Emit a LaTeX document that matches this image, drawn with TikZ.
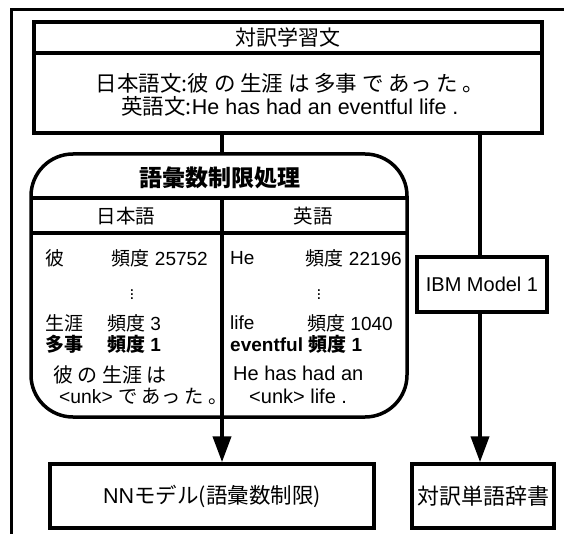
\documentclass[tikz,border=0pt]{standalone}
\usepackage{fontspec}
\setmainfont{Liberation Sans}
\newfontfamily\jp{Noto Sans CJK JP}
\usetikzlibrary{arrows.meta}
\tikzset{
  frame/.style={line width=3pt},
  boxline/.style={line width=3.5pt},
  box/.style={draw, line width=3.5pt, inner sep=0pt, rectangle},
  rowtxt/.style={inner sep=0pt, font=\fontsize{19}{22}\selectfont},
  dotstxt/.style={inner sep=0pt, font=\fontsize{17}{17}\selectfont},
  bigtxt/.style={inner sep=0pt, font=\fontsize{20.5}{24}\selectfont},
  conn/.style={line width=4pt},
  arr/.style={line width=4pt, -{Triangle[length=26pt,width=18pt]}},
}
\begin{document}
\begin{tikzpicture}[x=1pt,y=-1pt]
\useasboundingbox (0,0) rectangle (564,534);
\fill[white] (0,0) rectangle (564,534);
\draw[frame] (11,534) -- (11,10) -- (564,10);

% top box
\node[box, minimum width=508pt, minimum height=111pt] (top) at (288,77.5) {};
\draw[boxline] (34,53) -- (542,53);
\node[inner sep=0pt, font=\jp\fontsize{21}{24}\selectfont] (toptitle) at (288,38) {対訳学習文};
\node[inner sep=0pt, font=\fontsize{21.5}{24}\selectfont] (jline) at (290,83) {\jp 日本語文:彼 の 生涯 は 多事 で あっ た 。};
\node[inner sep=0pt, font=\fontsize{21.5}{24}\selectfont] (eline) at (290,106) {{\jp 英語文:}He has had an eventful life .};

% vocabulary restriction box
\node[box, rounded corners=42pt, minimum width=376pt, minimum height=263pt] (vocab) at (219,285.5) {};
\draw[boxline] (31,198) -- (407,198);
\draw[boxline] (31,233) -- (407,233);
\draw[boxline] (222,198) -- (222,417);
\node[inner sep=0pt, font=\jp\bfseries\fontsize{23}{26}\selectfont] (vtitle) at (220,178) {語彙数制限処理};
\node[inner sep=0pt, font=\jp\fontsize{19.5}{22}\selectfont] (hja) at (126,216) {日本語};
\node[inner sep=0pt, font=\jp\fontsize{19.5}{22}\selectfont] (hen) at (313,216) {英語};

% Japanese column
\node[rowtxt, anchor=west] (j1a) at (45,258) {\jp 彼};
\node[rowtxt, anchor=east] (j1b) at (208,258) {{\jp 頻度} 25752};
\node[dotstxt] (j2) at (132,292) {$\vdots$};
\node[rowtxt, anchor=west] (j3a) at (45,323) {\jp 生涯};
\node[rowtxt, anchor=west] (j3b) at (107,323) {{\jp 頻度} 3};
\node[rowtxt, anchor=west, font=\fontsize{19}{22}\selectfont\bfseries] (j4a) at (45,344) {\jp 多事};
\node[rowtxt, anchor=west, font=\fontsize{19}{22}\selectfont\bfseries] (j4b) at (107,344) {{\jp 頻度} 1};
\node[bigtxt, anchor=west, font=\jp\fontsize{20}{24}\selectfont] (j5) at (53,375) {彼 の 生涯 は};
\node[bigtxt, anchor=west, font=\fontsize{19.3}{24}\selectfont] (j6) at (59,396) {<unk> {\jp で あっ た 。}};

% English column
\node[rowtxt, anchor=west] (e1a) at (230,258) {He};
\node[rowtxt, anchor=east] (e1b) at (402,258) {{\jp 頻度} 22196};
\node[dotstxt] (e2) at (319,292) {$\vdots$};
\node[rowtxt, anchor=west] (e3a) at (230,323) {life};
\node[rowtxt, anchor=west] (e3b) at (307,323) {{\jp 頻度} 1040};
\node[rowtxt, anchor=west, font=\fontsize{19}{22}\selectfont\bfseries] (e4) at (230,344) {eventful {\jp 頻度} 1};
\node[bigtxt, anchor=west, font=\fontsize{20}{24}\selectfont] (e5) at (233,373) {He has had an};
\node[bigtxt, anchor=west, font=\fontsize{20}{24}\selectfont] (e6) at (249,396) {<unk> life .};

% other boxes
\node[box, minimum width=130pt, minimum height=55pt, font=\fontsize{20}{24}\selectfont] (ibm) at (482,284.5) {IBM Model 1};
\node[box, minimum width=324pt, minimum height=64pt, font=\fontsize{21.5}{24}\selectfont] (nn) at (212,496) {NN{\jp モデル(語彙数制限)}};
\node[box, minimum width=142pt, minimum height=64pt, font=\jp\fontsize{22}{24}\selectfont] (dict) at (483,496) {対訳単語辞書};

% connectors
\coordinate (cL) at (222,0);
\coordinate (cR) at (480,0);
\draw[conn] (top.south -| cL) -- (vocab.north -| cL);
\draw[arr] (vocab.south -| cL) -- (nn.north -| cL);
\draw[conn] (top.south -| cR) -- (ibm.north -| cR);
\draw[arr] (ibm.south -| cR) -- (dict.north -| cR);
\end{tikzpicture}
\end{document}
